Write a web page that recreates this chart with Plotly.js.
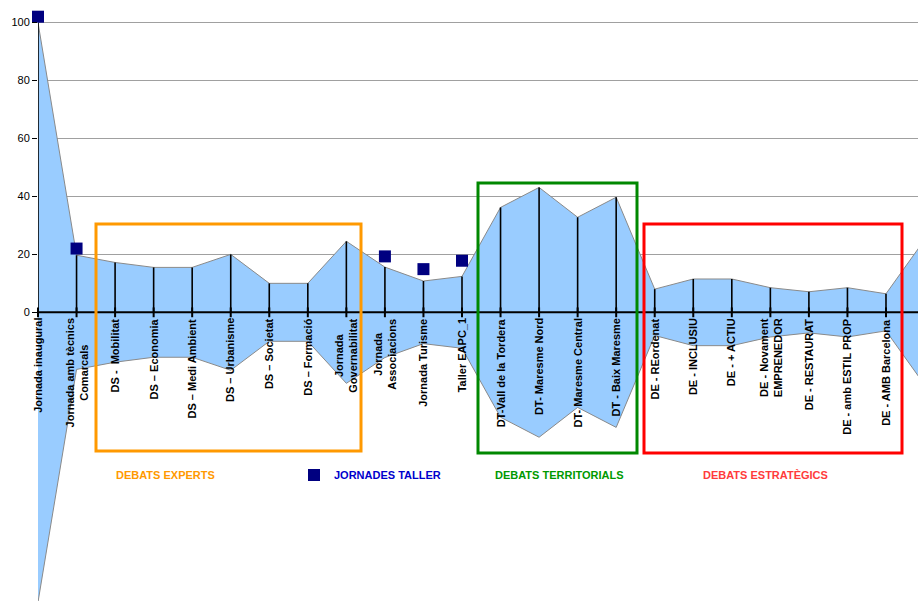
<!DOCTYPE html>
<html>
<head>
<meta charset="utf-8">
<script src="https://cdn.plot.ly/plotly-3.0.1.min.js"></script>
<style>html,body{margin:0;padding:0;background:#fff;}#chart{width:918px;height:601px;}</style>
</head>
<body>
<div id="chart"></div>
<script>
// ---- data ----
const categories = [
  "Jornada inaugural",
  "Jornada amb tècnics<br>Comarcals",
  "DS -  Mobilitat",
  "DS – Economia",
  "DS – Medi Ambient",
  "DS – Urbanisme",
  "DS – Societat",
  "DS – Formació",
  "Jornada<br>Governabilitat",
  "Jornada<br>Associacions",
  "Jornada Turisme",
  "Taller EAPC_1",
  "DT-Vall de la Tordera",
  "DT- Maresme Nord",
  "DT- Maresme Central",
  "DT - Baix Maresme",
  "DE - REordenat",
  "DE - INCLUSIU",
  "DE - + ACTIU",
  "DE - Novament<br>EMPRENEDOR",
  "DE - RESTAURAT",
  "DE - amb ESTIL PROP",
  "DE - AMB Barcelona",
  ""
];
const areaValues = [100, 19.7, 17.2, 15.5, 15.5, 20, 10, 10, 24.5, 15.6, 10.8, 12.4,
                    36.2, 43.1, 32.8, 39.7, 8, 11.5, 11.5, 8.5, 7.1, 8.5, 6.4, 25];
const tallerCategoryIdx = [0, 1, 9, 10, 11, 23];
const tallerValues = [102, 22, 19.3, 14.9, 17.8, 28];
const yTickVals = [0, 20, 40, 60, 80, 100];
const groupLabels = ["DEBATS EXPERTS", "DEBATS TERRITORIALS", "DEBATS ESTRATÈGICS"];

// ---- build ----
const idx = categories.map((_, i) => i);
const areaX = idx.concat(idx.slice().reverse());
const areaY = areaValues.concat(areaValues.map(v => -v).reverse());

const dropX = [], dropY = [];
idx.forEach((i) => { dropX.push(i, i, null); dropY.push(0, areaValues[i], null); });

const FONT = "Liberation Sans, Arial, sans-serif";

const traces = [
  {x: areaX, y: areaY, type: "scatter", mode: "lines", fill: "toself",
   fillcolor: "#99CCFF", line: {color: "#8a8a8a", width: 1}, showlegend: false, hoverinfo: "skip"},
  {x: dropX, y: dropY, type: "scatter", mode: "lines",
   line: {color: "#000", width: 1.6}, showlegend: false, hoverinfo: "skip"},
  {x: idx, y: idx.map(() => 0), type: "scatter", mode: "markers",
   marker: {symbol: "line-ns", size: 7, color: "#000", line: {color: "#000", width: 2}},
   showlegend: false, hoverinfo: "skip", cliponaxis: false},
  {x: tallerCategoryIdx, y: tallerValues, type: "scatter", mode: "markers",
   name: "JORNADES TALLER",
   marker: {symbol: "square", size: 12, color: "#000080"},
   cliponaxis: false, showlegend: true}
];

const annotations = categories.map((c, i) => ({
  x: i, y: 0, xref: "x", yref: "y", text: c, showarrow: false,
  textangle: -90, yanchor: "top", xanchor: "center", yshift: -4, align: "center",
  font: {family: FONT, size: 11, color: "#000", weight: "bold"}
}));

const pxToPaperX = px => (px - 38) / 880;
const pxToPaperY = py => 1 - (py - 8) / 593;

const groupColors = ["#FF9900", "#009900", "#FF3B3B"];
const groupCenters = [165, 559, 765];
groupLabels.forEach((g, k) => annotations.push({
  x: pxToPaperX(groupCenters[k]), y: pxToPaperY(475), xref: "paper", yref: "paper",
  text: g, showarrow: false, xanchor: "center", yanchor: "middle",
  font: {family: FONT, size: 11, color: groupColors[k], weight: "bold"}
}));

const box = (x0, y0, x1, y1, color) => ({
  type: "rect", xref: "paper", yref: "paper",
  x0: pxToPaperX(x0), x1: pxToPaperX(x1), y0: pxToPaperY(y0), y1: pxToPaperY(y1),
  line: {color: color, width: 3}, fillcolor: "rgba(0,0,0,0)", layer: "above"
});

const layout = {
  width: 918, height: 601,
  margin: {l: 38, r: 0, t: 8, b: 0},
  paper_bgcolor: "#fff", plot_bgcolor: "#fff",
  font: {family: FONT, size: 11, color: "#000"},
  xaxis: {range: [0, 880 / 38.545], showgrid: false, zeroline: false, showticklabels: false,
          ticks: "", showline: false, fixedrange: true},
  yaxis: {range: [-99.6, 105], tickvals: yTickVals, showgrid: true, gridcolor: "#a0a0a0",
          gridwidth: 1, zeroline: false, ticks: "outside", ticklen: 5, tickcolor: "#000",
          tickfont: {family: FONT, size: 11, color: "#000"}, showline: false, fixedrange: true},
  showlegend: true,
  legend: {x: pxToPaperX(294), y: pxToPaperY(475), xanchor: "left", yanchor: "middle",
           bgcolor: "rgba(0,0,0,0)", borderwidth: 0,
           font: {family: FONT, size: 11, color: "#0000CC", weight: "bold"}},
  shapes: [
    {type: "line", xref: "paper", yref: "y", x0: 0, x1: 1, y0: 0, y1: 0,
     line: {color: "#000", width: 2}, layer: "above"},
    box(96, 224, 361, 451, "#FF9900"),
    box(478, 183, 637, 453, "#008800"),
    box(644, 224, 902, 453, "#FF0000")
  ],
  annotations: annotations
};

Plotly.newPlot("chart", traces, layout, {displayModeBar: false, staticPlot: true});
</script>
</body>
</html>
